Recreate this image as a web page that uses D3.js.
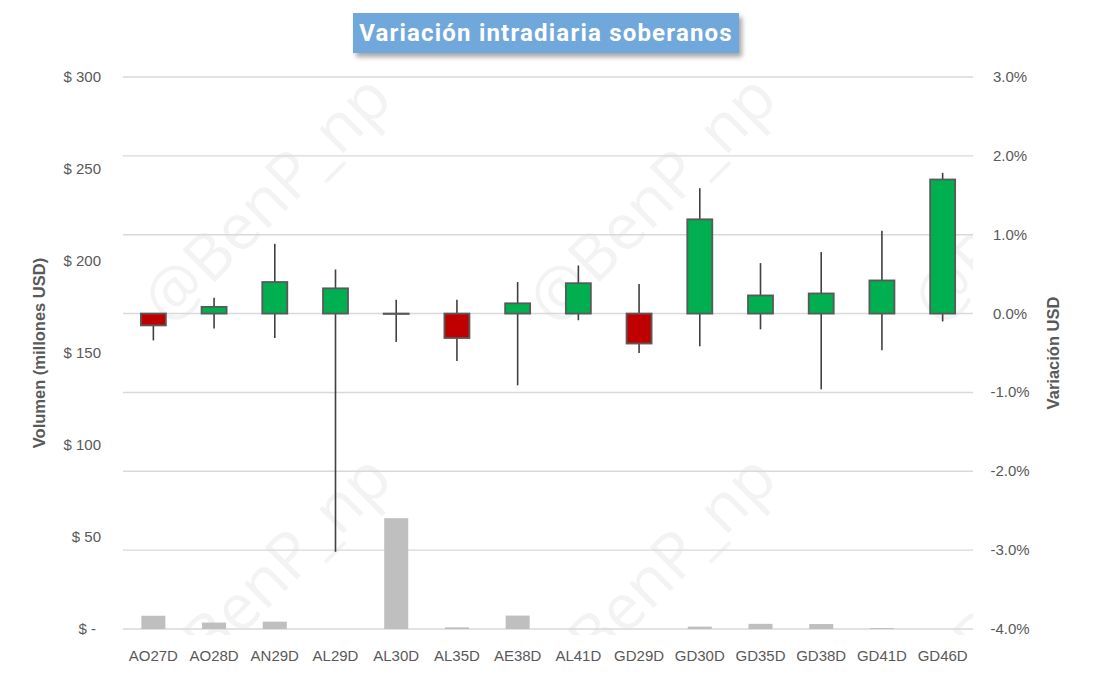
<!DOCTYPE html>
<html>
<head>
<meta charset="utf-8">
<script src="https://cdn.jsdelivr.net/npm/d3@7"></script>
<style>
  body { margin: 0; background: #fff; }
  svg { display: block; }
</style>
</head>
<body>
<div id="chart"></div>
<script>
// bonos soberanos - variacion intradiaria (open = 0%)
const categories = ["AO27D", "AO28D", "AN29D", "AL29D", "AL30D", "AL35D", "AE38D", "AL41D", "GD29D", "GD30D", "GD35D", "GD38D", "GD41D", "GD46D"];
const openVals  = [0, 0, 0, 0, 0, 0, 0, 0, 0, 0, 0, 0, 0, 0];
const closeVals = [-0.15, 0.085, 0.40, 0.32, -0.005, -0.31, 0.13, 0.385, -0.38, 1.195, 0.23, 0.255, 0.42, 1.70];
const highVals  = [0, 0.20, 0.885, 0.56, 0.175, 0.175, 0.40, 0.61, 0.375, 1.59, 0.64, 0.78, 1.05, 1.785];
const lowVals   = [-0.34, -0.19, -0.31, -3.02, -0.36, -0.60, -0.91, -0.085, -0.50, -0.415, -0.20, -0.96, -0.465, -0.10];
const volumes   = [7.2, 3.5, 4.0, 0, 60.2, 0.9, 7.3, 0, 0, 1.3, 2.8, 2.7, 0.5, 0];

const leftTicks = [0, 50, 100, 150, 200, 250, 300];
const rightTicks = [-4, -3, -2, -1, 0, 1, 2, 3];

const width = 1093, height = 677;
const margin = {top: 77, right: 120, bottom: 48, left: 123};

const svg = d3.select("#chart")
  .append("svg")
  .attr("width", width)
  .attr("height", height);

const x = d3.scaleBand()
  .domain(categories)
  .range([margin.left, width - margin.right])
  .padding(0);

const yVol = d3.scaleLinear()
  .domain([0, 300])
  .range([height - margin.bottom, margin.top]);

const yPct = d3.scaleLinear()
  .domain([-4, 3])
  .range([height - margin.bottom, margin.top]);

const defs = svg.append("defs");
defs.append("clipPath").attr("id", "plotclip")
  .append("rect")
  .attr("x", margin.left).attr("y", 58)
  .attr("width", width - margin.right - margin.left)
  .attr("height", height - margin.bottom - 58 + 6);

const shadow = defs.append("filter").attr("id", "shadow")
  .attr("x", "-10%").attr("y", "-30%").attr("width", "130%").attr("height", "170%");
shadow.append("feDropShadow")
  .attr("dx", 3).attr("dy", 4).attr("stdDeviation", 2.5)
  .attr("flood-color", "#000").attr("flood-opacity", 0.35);

// watermark (tiled, clipped to plot)
const wm = svg.append("g").attr("clip-path", "url(#plotclip)");
for (let i = 0; i <= 2; i++) {
  for (let j = 0; j <= 1; j++) {
    wm.append("text")
      .attr("transform", `translate(${265 + i * 385},${197 + j * 380}) rotate(-45)`)
      .attr("text-anchor", "middle")
      .attr("dominant-baseline", "central")
      .attr("font-family", "Open Sans, sans-serif")
      .attr("font-size", 64)
      .attr("fill", "#f3f3f3")
      .text("@BenP_np");
  }
}

// gridlines (secondary axis)
svg.append("g")
  .selectAll("line")
  .data(rightTicks)
  .join("line")
  .attr("x1", margin.left)
  .attr("x2", width - margin.right)
  .attr("y1", d => yPct(d))
  .attr("y2", d => yPct(d))
  .attr("stroke", "#d9d9d9")
  .attr("stroke-width", 1.4);

// volume bars
const barW = 24;
svg.append("g")
  .selectAll("rect")
  .data(categories)
  .join("rect")
  .attr("x", (d) => x(d) + x.bandwidth() / 2 - barW / 2)
  .attr("y", (d, i) => yVol(volumes[i]))
  .attr("width", barW)
  .attr("height", (d, i) => yVol(0) - yVol(volumes[i]))
  .attr("fill", "#bfbfbf");

// wicks
svg.append("g")
  .selectAll("line")
  .data(categories)
  .join("line")
  .attr("x1", d => x(d) + x.bandwidth() / 2)
  .attr("x2", d => x(d) + x.bandwidth() / 2)
  .attr("y1", (d, i) => yPct(highVals[i]))
  .attr("y2", (d, i) => yPct(lowVals[i]))
  .attr("stroke", "#404040")
  .attr("stroke-width", 1.6);

// bodies
const boxW = 25;
svg.append("g")
  .selectAll("rect")
  .data(categories)
  .join("rect")
  .attr("x", d => x(d) + x.bandwidth() / 2 - boxW / 2)
  .attr("y", (d, i) => yPct(Math.max(openVals[i], closeVals[i])))
  .attr("width", boxW)
  .attr("height", (d, i) => Math.abs(yPct(openVals[i]) - yPct(closeVals[i])))
  .attr("fill", (d, i) => closeVals[i] >= openVals[i] ? "#00b050" : "#c00000")
  .attr("stroke", "#595959")
  .attr("stroke-width", 1.8);

// x labels
svg.append("g")
  .selectAll("text")
  .data(categories)
  .join("text")
  .attr("x", d => x(d) + x.bandwidth() / 2)
  .attr("y", 661)
  .attr("text-anchor", "middle")
  .attr("font-family", "Liberation Sans, sans-serif")
  .attr("font-size", 15)
  .attr("fill", "#595959")
  .text(d => d);

// left axis labels
svg.append("g")
  .selectAll("text")
  .data(leftTicks)
  .join("text")
  .attr("x", d => d === 0 ? 96 : 101)
  .attr("y", d => yVol(d) + 5)
  .attr("text-anchor", "end")
  .attr("font-family", "Liberation Sans, sans-serif")
  .attr("font-size", 15)
  .attr("fill", "#595959")
  .text(d => d === 0 ? "$ -" : "$ " + d);

// right axis labels
const pctFmt = d => d3.format(".1f")(d).replace("\u2212", "-") + "%";
svg.append("g")
  .selectAll("text")
  .data(rightTicks)
  .join("text")
  .attr("x", 1010)
  .attr("y", d => yPct(d) + 5)
  .attr("text-anchor", "middle")
  .attr("font-family", "Liberation Sans, sans-serif")
  .attr("font-size", 15)
  .attr("fill", "#595959")
  .text(pctFmt);

// axis titles
svg.append("text")
  .attr("transform", "translate(45,353) rotate(-90)")
  .attr("text-anchor", "middle")
  .attr("font-family", "Liberation Sans, sans-serif")
  .attr("font-weight", "bold")
  .attr("font-size", 16.5)
  .attr("fill", "#595959")
  .text("Volumen (millones USD)");

svg.append("text")
  .attr("transform", "translate(1059,353) rotate(-90)")
  .attr("text-anchor", "middle")
  .attr("font-family", "Liberation Sans, sans-serif")
  .attr("font-weight", "bold")
  .attr("font-size", 16.5)
  .attr("fill", "#595959")
  .text("Variación USD");

// title box
svg.append("rect")
  .attr("x", 353).attr("y", 13)
  .attr("width", 386).attr("height", 40)
  .attr("fill", "#6fa8dc")
  .attr("filter", "url(#shadow)");

svg.append("text")
  .attr("x", 546).attr("y", 41)
  .attr("text-anchor", "middle")
  .attr("font-family", "Roboto, sans-serif")
  .attr("font-weight", "bold")
  .attr("font-size", 24)
  .attr("letter-spacing", 1.2)
  .attr("fill", "#fff")
  .text("Variación intradiaria soberanos");
</script>
</body>
</html>
